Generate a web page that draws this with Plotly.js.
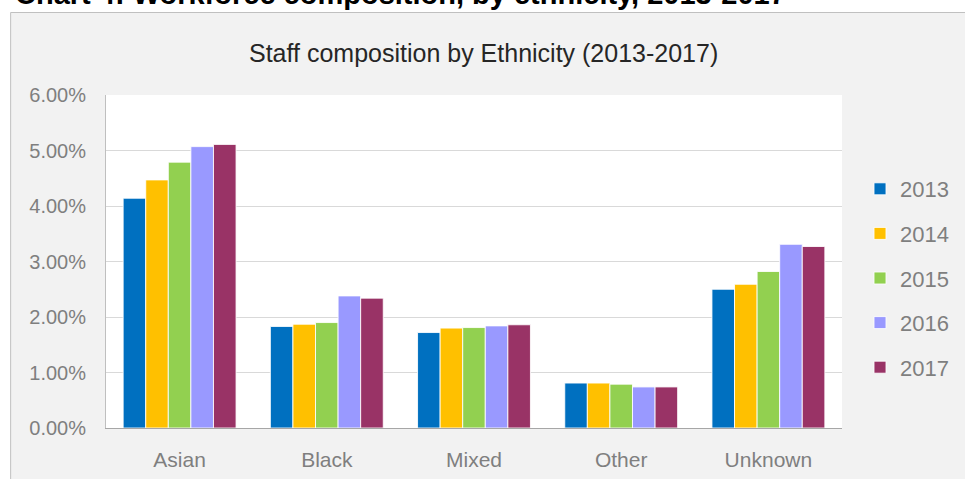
<!DOCTYPE html>
<html>
<head>
<meta charset="utf-8">
<script src="https://cdn.plot.ly/plotly-3.0.1.min.js"></script>
<style>
  html, body { margin: 0; padding: 0; background: #ffffff; }
  #chart { width: 965px; height: 479px; }
</style>
</head>
<body>
<div id="chart"></div>
<script>
// ---- data ----
const categories = ["Asian", "Black", "Mixed", "Other", "Unknown"];
const years = ["2013", "2014", "2015", "2016", "2017"];
const v2013 = [4.14, 1.83, 1.72, 0.81, 2.50];
const v2014 = [4.47, 1.87, 1.80, 0.81, 2.59];
const v2015 = [4.79, 1.90, 1.81, 0.79, 2.82];
const v2016 = [5.07, 2.38, 1.84, 0.74, 3.31];
const v2017 = [5.11, 2.34, 1.86, 0.74, 3.27];
const seriesValues = [v2013, v2014, v2015, v2016, v2017];
const colors = ["#0070C0", "#FFC000", "#92D050", "#9999FF", "#993366"];
const chartTitle = "Staff composition by Ethnicity (2013-2017)";
const pageHeader = "Chart 4: Workforce composition, by ethnicity, 2013-2017";

// ---- geometry helpers (pixel -> paper) ----
const W = 965, H = 479;
const M = { l: 106, r: 122, t: 95, b: 51 };
const PW = W - M.l - M.r, PH = H - M.t - M.b;
const px = x => (x - M.l) / PW;
const py = y => (H - M.b - y) / PH;

const traces = years.map((y, i) => ({
  type: "bar",
  name: y,
  x: categories,
  y: seriesValues[i],
  legendgroup: "g" + i,
  marker: { color: colors[i], line: { color: "rgba(255,255,255,0.85)", width: 1 } },
  hoverinfo: "skip"
}));

const FONT = "Liberation Sans, Arial, sans-serif";

const layout = {
  width: W, height: H,
  margin: M,
  paper_bgcolor: "#f2f2f2",
  plot_bgcolor: "#ffffff",
  showlegend: true,
  barmode: "group",
  bargap: 0.233,
  bargroupgap: 0,
  font: { family: FONT, color: "#7f7f7f" },
  xaxis: {
    type: "category",
    showgrid: false,
    showline: true, linecolor: "#a6a6a6", linewidth: 1,
    ticks: "",
    tickfont: { size: 21, color: "#7f7f7f", family: FONT },
    ticklabelstandoff: 13,
    fixedrange: true
  },
  yaxis: {
    range: [0, 6],
    dtick: 1,
    tickformat: ".2f",
    ticksuffix: "%",
    showgrid: true, gridcolor: "#d9d9d9", gridwidth: 1,
    showline: true, linecolor: "#bfbfbf", linewidth: 1,
    zeroline: false,
    ticks: "",
    tickfont: { size: 20, color: "#7f7f7f", family: FONT },
    ticklabelstandoff: 15,
    fixedrange: true
  },
  legend: {
    x: px(860), xanchor: "left",
    y: py(168), yanchor: "top",
    bgcolor: "rgba(0,0,0,0)",
    font: { size: 22, color: "#7f7f7f", family: FONT },
    traceorder: "grouped",
    tracegroupgap: 13,
    itemclick: false, itemdoubleclick: false
  },
  shapes: [
    // white page strips outside the grey chart frame
    { type: "rect", xref: "paper", yref: "paper", x0: px(-5), x1: px(970), y0: py(12), y1: py(-5),
      fillcolor: "#ffffff", line: { width: 0 }, layer: "below" },
    { type: "rect", xref: "paper", yref: "paper", x0: px(-5), x1: px(10.5), y0: py(485), y1: py(12),
      fillcolor: "#ffffff", line: { width: 0 }, layer: "below" },
    // frame border
    { type: "line", xref: "paper", yref: "paper", x0: px(10.5), x1: px(970), y0: py(12.5), y1: py(12.5),
      line: { color: "#c0c0c0", width: 1 } },
    { type: "line", xref: "paper", yref: "paper", x0: px(10.5), x1: px(10.5), y0: py(12.5), y1: py(485),
      line: { color: "#c0c0c0", width: 1 } }
  ],
  annotations: [
    { text: "<b>" + pageHeader + "</b>", xref: "paper", yref: "paper",
      x: px(13), xanchor: "left", y: py(12), yanchor: "bottom",
      showarrow: false, font: { size: 29, color: "#000000", family: FONT } },
    { text: chartTitle, xref: "paper", yref: "paper",
      x: px(484), xanchor: "center", y: py(53), yanchor: "middle",
      showarrow: false, font: { size: 25, color: "#262626", family: FONT } }
  ]
};

Plotly.newPlot("chart", traces, layout, { displayModeBar: false, staticPlot: true });
</script>
</body>
</html>
